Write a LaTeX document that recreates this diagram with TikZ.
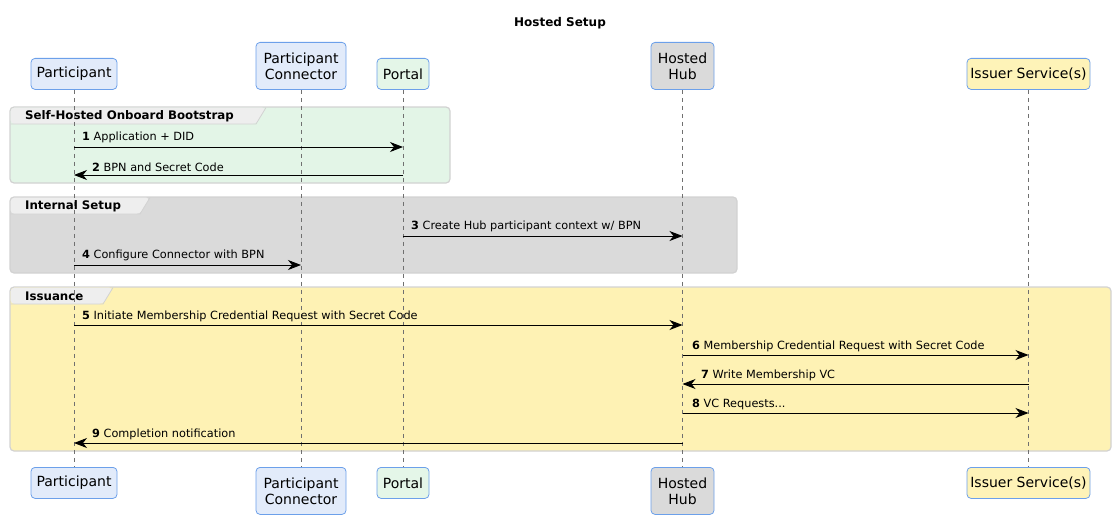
\documentclass[tikz,border=0pt]{standalone}
\usepackage{fontspec}
\setmainfont{DejaVu Sans}
\usetikzlibrary{arrows.meta}
\definecolor{pblue}{HTML}{E2EBFA}
\definecolor{pborder}{HTML}{6CA0EA}
\definecolor{pgreen}{HTML}{E4F6E8}
\definecolor{pgray}{HTML}{DADADA}
\definecolor{pyellow}{HTML}{FEF3B8}
\definecolor{gborder}{HTML}{D2D2D2}
\definecolor{gtab}{HTML}{EEEEEE}
\definecolor{gyellow}{HTML}{FEF2B4}
\definecolor{ggreen}{HTML}{E3F5E7}
\definecolor{lline}{HTML}{707070}
\tikzset{
  x=1pt, y=-1pt,
  actor/.style={draw=pborder, line width=0.8pt, rounded corners=4pt, font=\fontsize{14}{16}\selectfont, align=center, inner sep=0pt, anchor=north},
  lifeline/.style={draw=lline, dash pattern=on 4pt off 4pt, line width=0.5pt},
  msg/.style={draw=black, line width=0.9pt, -{Stealth[length=13pt,width=10pt,inset=4pt]}},
  mlabel/.style={font=\fontsize{11.3}{13}\selectfont, anchor=south west, inner sep=0pt},
  grp/.style={draw=gborder, line width=1.2pt, rounded corners=4pt},
  glabel/.style={font=\bfseries\fontsize{11.8}{13}\selectfont, anchor=west, inner sep=0pt},
}
\begin{document}
\begin{tikzpicture}
\useasboundingbox (0,0) rectangle (1115,519);
\node[font=\bfseries\fontsize{12}{14}\selectfont] (title) at (560,23) {Hosted Setup};
% groups
\draw[grp, fill=ggreen] (10,107) rectangle (450,183);
\draw[grp, fill=pgray] (10,197) rectangle (737,273);
\draw[grp, fill=gyellow] (10,287) rectangle (1111,451);
\fill[gtab, rounded corners=4pt] (10.6,107.6) -- (10.6,124) -- (256,124) -- (266,107.6) -- cycle;
\draw[gborder, line width=0.8pt] (10.6,124) -- (256,124) -- (266,107.6);
\fill[gtab, rounded corners=4pt] (10.6,197.6) -- (10.6,214) -- (140,214) -- (150,197.6) -- cycle;
\draw[gborder, line width=0.8pt] (10.6,214) -- (140,214) -- (150,197.6);
\fill[gtab, rounded corners=4pt] (10.6,287.6) -- (10.6,304) -- (103,304) -- (113,287.6) -- cycle;
\draw[gborder, line width=0.8pt] (10.6,304) -- (103,304) -- (113,287.6);
\node[glabel] (g1) at (25,116) {Self-Hosted Onboard Bootstrap};
\node[glabel] (g2) at (25,206) {Internal Setup};
\node[glabel] (g3) at (25,296) {Issuance};
% actors top
\node[actor, fill=pblue, minimum width=86pt, minimum height=31pt] (Pt) at (74,58) {Participant};
\node[actor, fill=pblue, minimum width=90pt, minimum height=47pt] (Ct) at (301,42) {Participant\\Connector};
\node[actor, fill=pgreen, minimum width=52pt, minimum height=31pt] (Ot) at (403,58) {Portal};
\node[actor, fill=pgray, minimum width=63pt, minimum height=47pt] (Ht) at (682.5,42) {Hosted\\Hub};
\node[actor, fill=pyellow, minimum width=123pt, minimum height=31pt] (It) at (1028.5,58) {Issuer Service(s)};
% actors bottom
\node[actor, fill=pblue, minimum width=86pt, minimum height=31pt] (Pb) at (74,467) {Participant};
\node[actor, fill=pblue, minimum width=90pt, minimum height=47pt] (Cb) at (301,467) {Participant\\Connector};
\node[actor, fill=pgreen, minimum width=52pt, minimum height=31pt] (Ob) at (403,467) {Portal};
\node[actor, fill=pgray, minimum width=63pt, minimum height=47pt] (Hb) at (682.5,467) {Hosted\\Hub};
\node[actor, fill=pyellow, minimum width=123pt, minimum height=31pt] (Ib) at (1028.5,467) {Issuer Service(s)};
% lifelines
\foreach \a in {P,C,O,H,I} { \draw[lifeline] (\a t.south) -- (\a b.north); }
% messages
\draw[msg] (Pt |- 0,147) -- (Ot |- 0,147);
\node[mlabel] (m1) at (82,143) {\textbf{1} Application + DID};
\draw[msg] (Ot |- 0,175) -- (Pt |- 0,175);
\node[mlabel] (m2) at (92,172) {\textbf{2} BPN and Secret Code};
\draw[msg] (Ot |- 0,236) -- (Ht |- 0,236);
\node[mlabel] (m3) at (411,232) {\textbf{3} Create Hub participant context w/ BPN};
\draw[msg] (Pt |- 0,265) -- (Ct |- 0,265);
\node[mlabel] (m4) at (82,261) {\textbf{4} Configure Connector with BPN};
\draw[msg] (Pt |- 0,325) -- (Ht |- 0,325);
\node[mlabel] (m5) at (82,322) {\textbf{5} Initiate Membership Credential Request with Secret Code};
\draw[msg] (Ht |- 0,355) -- (It |- 0,355);
\node[mlabel] (m6) at (692,352) {\textbf{6} Membership Credential Request with Secret Code};
\draw[msg] (It |- 0,384) -- (Ht |- 0,384);
\node[mlabel] (m7) at (701,381) {\textbf{7} Write Membership VC};
\draw[msg] (Ht |- 0,413) -- (It |- 0,413);
\node[mlabel] (m8) at (692,410) {\textbf{8} VC Requests...};
\draw[msg] (Ht |- 0,443) -- (Pt |- 0,443);
\node[mlabel] (m9) at (92,440) {\textbf{9} Completion notification};
\end{tikzpicture}
\end{document}
